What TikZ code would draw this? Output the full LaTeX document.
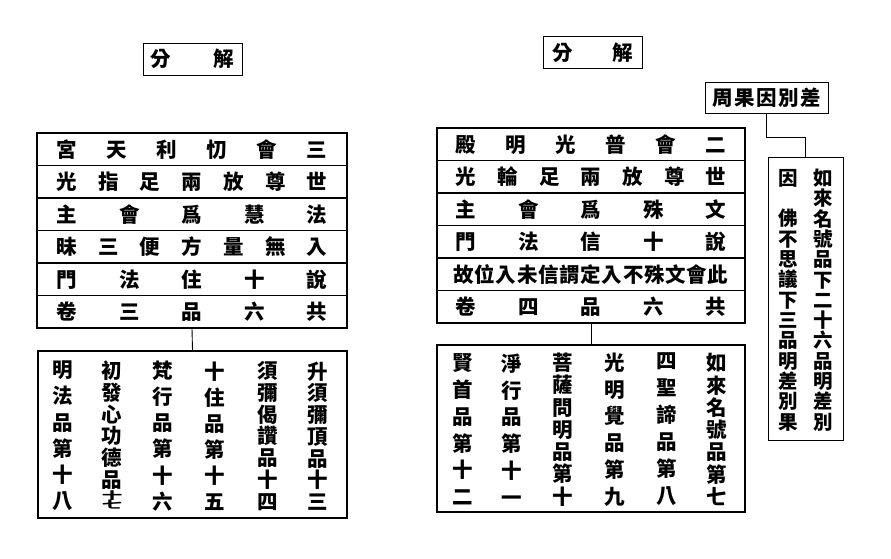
\documentclass[tikz,border=0pt]{standalone}
\usepackage{fontspec}
\setmainfont{Noto Sans CJK TC}
\usepackage{graphicx}
\usetikzlibrary{calc}

\newcommand\hspread[2]{\makebox[#1][s]{\hspreadaux#2\relax}}
\def\hspreadaux#1#2{#1\ifx\relax#2\else\hfill\expandafter\hspreadaux\fi{#2}}
\newcommand\vspread[2]{\parbox[c][#1][s]{1.2em}{\centering\vspreadaux#2\relax}}
\def\vspreadaux#1#2{#1\ifx\relax#2\else\par\vfill\expandafter\vspreadaux\fi{#2}}
\newcommand\tenseven{\raisebox{0pt}[0.85em][0.1em]{\makebox[1em]{\smash{\rlap{\raisebox{0.46em}{\scalebox{1}[0.5]{十}}}\scalebox{1}[0.5]{七}}}}}

\begin{document}
\begin{tikzpicture}[x=1pt,y=-1pt]
            \useasboundingbox (0,0) rectangle (891,558);
            \tikzset{every node/.style={font=\fontsize{20.5pt}{20.5pt}\selectfont\bfseries, inner sep=0pt}}
            \tikzset{title/.style={draw, line width=0.8pt, minimum width=99pt, minimum height=32pt}}
            \tikzset{rowbox/.style={draw, line width=1.1pt, minimum height=32.5pt}}
            \tikzset{colbox/.style={draw, line width=1.1pt}}

            \node[title] (ltitle) at (192.5,59) {\hspread{84pt}{分解}};
            \node[title] (rtitle) at (592.5,52.5) {\hspread{81pt}{分解}};
            \node[title, minimum width=123pt, minimum height=31pt] (cause) at (766.5,97.5) {\hspread{108pt}{周果因別差}};

            \tikzset{rowbox/.append style={minimum width=310pt}}
            \node[rowbox] (l1) at (192,149.25) {\hspread{271pt}{宮天利忉會三}};
            \node[rowbox] (l2) at (192,181.75) {\hspread{271pt}{光指足兩放尊世}};
            \node[rowbox] (l3) at (192,214.25) {\hspread{271pt}{主會爲慧法}};
            \node[rowbox] (l4) at (192,246.75) {\hspread{271pt}{昧三便方量無入}};
            \node[rowbox] (l5) at (192,279.25) {\hspread{271pt}{門法住十說}};
            \node[rowbox] (l6) at (192,311.75) {\hspread{271pt}{卷三品六共}};

            \tikzset{rowbox/.append style={minimum width=308pt}}
            \node[rowbox] (r1) at (591,144.25) {\hspread{271pt}{殿明光普會二}};
            \node[rowbox] (r2) at (591,176.75) {\hspread{271pt}{光輪足兩放尊世}};
            \node[rowbox] (r3) at (591,209.25) {\hspread{271pt}{主會爲殊文}};
            \node[rowbox] (r4) at (591,241.75) {\hspread{271pt}{門法信十說}};
            \node[rowbox] (r5) at (591,274.25) {\hspread{275pt}{故位入未信謂定入不殊文會此}};
            \node[rowbox] (r6) at (591,306.75) {\hspread{271pt}{卷四品六共}};

            \node[colbox, minimum width=309pt, minimum height=167pt] (lbox) at (192.5,434.5) {};
            \node (lc1) at (63,436) {\vspread{148pt}{明法品第十八}};
            \node (lc2) at (112,436) {\vspread{148pt}{初發心功德品{\tenseven}}};
            \node (lc3) at (163,436) {\vspread{148pt}{梵行品第十六}};
            \node (lc4) at (215,436) {\vspread{148pt}{十住品第十五}};
            \node (lc5) at (268,436) {\vspread{148pt}{須彌偈讚品十四}};
            \node (lc6) at (318,436) {\vspread{148pt}{升須彌頂品十三}};

            \node[colbox, minimum width=308pt, minimum height=167pt] (rbox) at (591,428.5) {};
            \node (rc1) at (463,429.5) {\vspread{151pt}{賢首品第十二}};
            \node (rc2) at (512,429.5) {\vspread{151pt}{淨行品第十一}};
            \node (rc3) at (563,429.5) {\vspread{151pt}{菩薩問明品第十}};
            \node (rc4) at (615,429.5) {\vspread{151pt}{光明覺品第九}};
            \node (rc5) at (667,429.5) {\vspread{151pt}{四聖諦品第八}};
            \node (rc6) at (717,429.5) {\vspread{151pt}{如來名號品第七}};

            \tikzset{every node/.append style={font=\fontsize{19.5pt}{19.5pt}\selectfont\bfseries}}
            \node[colbox, line width=0.8pt, minimum width=75pt, minimum height=283pt] (tall) at (805.5,298.5) {};
            \node (tc1) at (823,300) {\vspread{260pt}{如來名號品下二十六品明差別}};
            \node (tc2) at (788,300) {\vspread{260pt}{因{\phantom{因}}佛不思議下三品明差別果}};

            \coordinate (bend) at (805.5,137);
            \draw[line width=0.9pt] (l6.south) -- (lbox.north);
            \draw[line width=0.9pt] (r6.south) -- (rbox.north);
            \draw[line width=0.9pt] (cause.south) |- (bend) -- (tall.north);
\end{tikzpicture}
\end{document}
